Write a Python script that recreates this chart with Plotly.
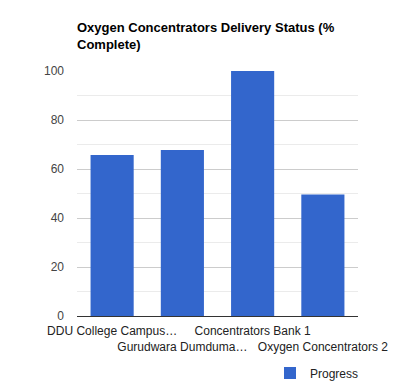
import plotly.graph_objects as go

categories = ["DDU College Campus…", "Gurudwara Dumduma…", "Concentrators Bank 1", "Oxygen Concentrators 2"]
progress = [65.7, 67.8, 100, 49.6]
tick_vals = [0, 20, 40, 60, 80, 100]
tick_labels = ["0", "20", "40", "60", "80", "100"]

# staggered category labels (Google Charts style alternating rows)
staggered = [c if i % 2 == 0 else "<br>" + c for i, c in enumerate(categories)]

# page body has an 8px margin, so the figure is drawn 8px in from the corner
W, H = 402, 380

fig = go.Figure()
fig.add_trace(go.Bar(
    x=categories, y=progress, name="Progress",
    marker=dict(color="#3366cc", line=dict(width=0)),
    hoverinfo="x+y",
))

fig.update_layout(
    width=W, height=H,
    margin=dict(l=69, r=52, t=63, b=72, autoexpand=False),
    paper_bgcolor="white", plot_bgcolor="white",
    font=dict(family="Liberation Sans, Arial, sans-serif", size=12, color="#222"),
    bargap=0.386,
    title=dict(
        text="<b>Oxygen Concentrators Delivery Status (%<br>Complete)</b>",
        x=69/W, xanchor="left", xref="container",
        y=1 - 24/H, yanchor="top", yref="container",
        font=dict(size=13, color="#000"),
    ),
    xaxis=dict(
        tickmode="array", tickvals=categories, ticktext=staggered,
        showgrid=False, showline=False, ticks="", tickangle=0,
        ticklabelstandoff=6,
        tickfont=dict(size=12, color="#222"),
        fixedrange=True,
    ),
    yaxis=dict(
        range=[0, 100], tickmode="array", tickvals=tick_vals, ticktext=tick_labels,
        showgrid=True, gridcolor="#cccccc", gridwidth=1,
        minor=dict(dtick=10, showgrid=True, gridcolor="#ebebeb", gridwidth=1),
        zeroline=True, zerolinecolor="#333333", zerolinewidth=1,
        showline=False, ticks="", ticklabelstandoff=12,
        tickfont=dict(size=12, color="#444"),
        fixedrange=True,
    ),
    showlegend=True,
    legend=dict(
        orientation="h", x=1 + 6/281, xanchor="right", y=-57/245, yanchor="middle",
        font=dict(size=12, color="#222"), bgcolor="rgba(0,0,0,0)",
    ),
)

fig.write_html("out.html")
